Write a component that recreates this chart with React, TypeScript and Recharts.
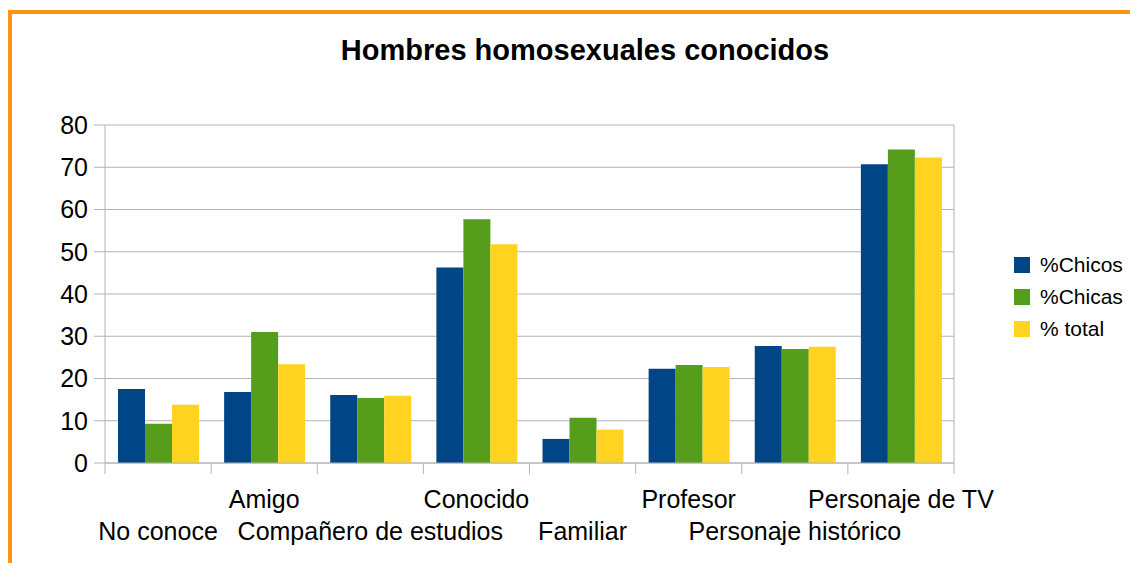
import { BarChart, Bar, XAxis, YAxis, CartesianGrid, Legend } from "recharts";

const CATEGORIAS = [
  "No conoce",
  "Amigo",
  "Compañero de estudios",
  "Conocido",
  "Familiar",
  "Profesor",
  "Personaje histórico",
  "Personaje de TV",
];

const CHICOS = [17.5, 16.8, 16.1, 46.3, 5.7, 22.3, 27.7, 70.7];
const CHICAS = [9.3, 31.0, 15.4, 57.7, 10.7, 23.2, 27.0, 74.2];
const TOTAL = [13.8, 23.4, 15.9, 51.8, 7.9, 22.7, 27.5, 72.3];

const Y_TICKS = [0, 10, 20, 30, 40, 50, 60, 70, 80];

const SERIES = [
  { key: "%Chicos", color: "#004586" },
  { key: "%Chicas", color: "#579d1c" },
  { key: "% total", color: "#ffd320" },
];

const GRIS = "#b3b3b3";
const FONT = "'Liberation Sans', Arial, sans-serif";

const rows = CATEGORIAS.map((cat, i) => ({
  cat,
  "%Chicos": CHICOS[i],
  "%Chicas": CHICAS[i],
  "% total": TOTAL[i],
}));

// etiquetas alternadas en dos filas + marcas en los límites de cada categoría
function CatTick(props: any) {
  const { x, y, payload, index, width, visibleTicksCount } = props;
  const half = payload.offset ?? width / visibleTicksCount / 2;
  const dy = index % 2 === 0 ? 77 : 45;
  const last = index === visibleTicksCount - 1;
  return (
    <g>
      <line x1={x - half} x2={x - half} y1={y} y2={y + 11} stroke={GRIS} />
      {last && <line x1={x + half} x2={x + half} y1={y} y2={y + 11} stroke={GRIS} />}
      <text x={x} y={y + dy} textAnchor="middle" fontSize={25} fill="#000" fontFamily={FONT}>
        {payload.value}
      </text>
    </g>
  );
}

// leyenda en el orden de las series (recharts las ordena por nombre)
function LegendBox() {
  return (
    <div>
      {SERIES.map((s) => (
        <div
          key={s.key}
          style={{ display: "flex", alignItems: "center", height: 32, whiteSpace: "nowrap" }}
        >
          <span
            style={{ width: 16, height: 16, flexShrink: 0, background: s.color, display: "inline-block" }}
          />
          <span style={{ marginLeft: 10, fontSize: 21, color: "#000", fontFamily: FONT }}>
            {s.key}
          </span>
        </div>
      ))}
    </div>
  );
}

export default function App() {
  return (
    <div
      style={{
        position: "relative",
        width: 1130,
        height: 555,
        overflow: "hidden",
        fontFamily: FONT,
        background: "#fff",
      }}
    >
      <div
        style={{
          position: "absolute",
          top: 2,
          left: 0,
          width: 1300,
          height: 700,
          border: "4px solid #ff9410",
        }}
      />
      <div
        style={{
          position: "absolute",
          top: 27.5,
          left: 577,
          transform: "translateX(-50%)",
          fontSize: 29,
          lineHeight: "29px",
          fontWeight: "bold",
          whiteSpace: "nowrap",
          color: "#000",
        }}
      >
        Hombres homosexuales conocidos
      </div>
      <div style={{ position: "absolute", top: 0, left: 0 }}>
        <BarChart
          width={1130}
          height={553}
          data={rows}
          margin={{ top: 117, right: 183, left: 37, bottom: 6 }}
          barGap={0}
          barSize={27}
        >
          <CartesianGrid vertical={false} stroke={GRIS} xAxisId="cat" yAxisId="v" />
          <XAxis
            xAxisId="cat"
            dataKey="cat"
            interval={0}
            height={92}
            axisLine={{ stroke: GRIS }}
            tickLine={false}
            tickSize={0}
            tickMargin={0}
            tick={<CatTick />}
          />
          <YAxis
            yAxisId="v"
            domain={[0, 80]}
            ticks={Y_TICKS}
            width={60}
            tickSize={11}
            tickMargin={6}
            axisLine={{ stroke: GRIS }}
            tickLine={{ stroke: GRIS }}
            tick={{ fontSize: 25, fill: "#000", fontFamily: FONT }}
          />
          <YAxis
            yAxisId="r"
            orientation="right"
            domain={[0, 80]}
            width={1}
            tick={false}
            tickLine={false}
            axisLine={{ stroke: GRIS }}
          />
          <Legend
            layout="vertical"
            align="right"
            verticalAlign="top"
            content={<LegendBox />}
            wrapperStyle={{ position: "absolute", left: 1006, top: 241, width: 0 }}
          />
          {SERIES.map((s) => (
            <Bar
              key={s.key}
              dataKey={s.key}
              xAxisId="cat"
              yAxisId="v"
              fill={s.color}
              isAnimationActive={false}
            />
          ))}
        </BarChart>
      </div>
    </div>
  );
}
